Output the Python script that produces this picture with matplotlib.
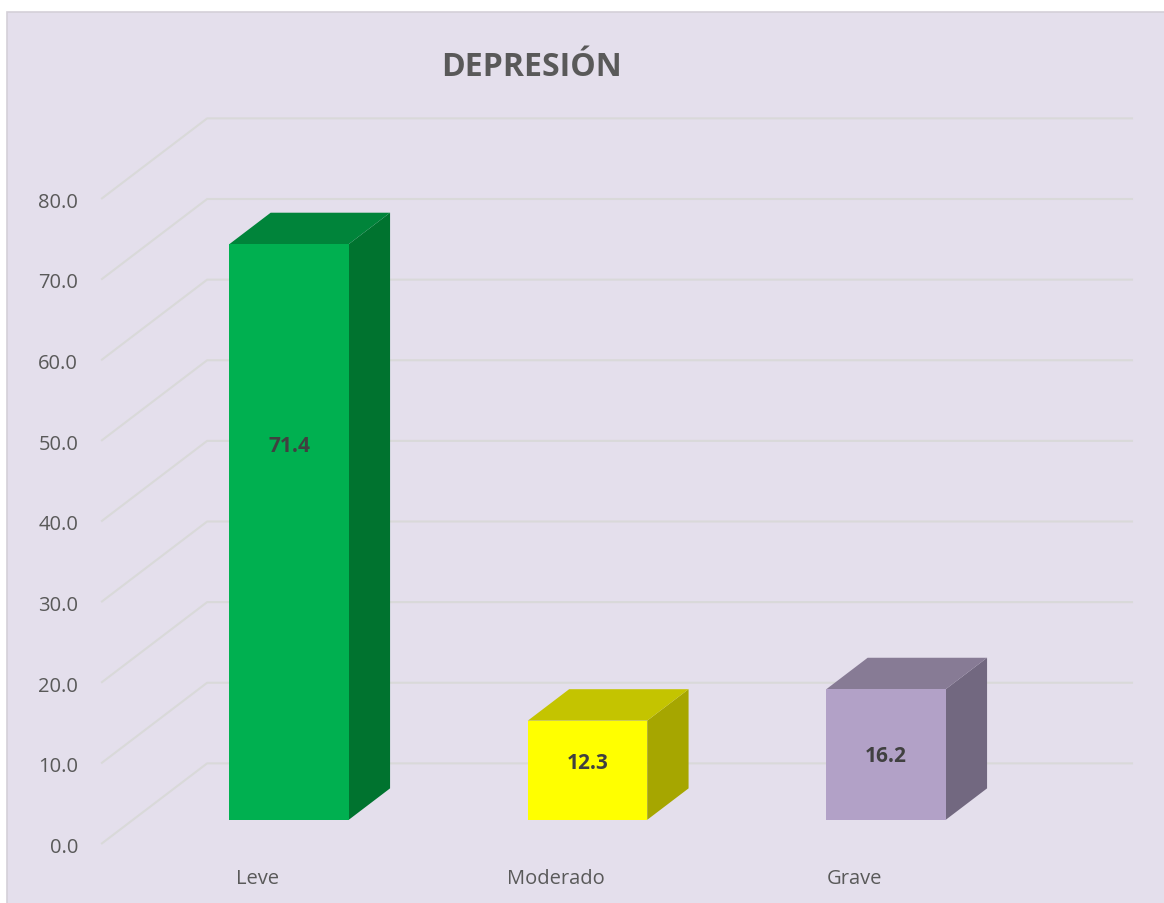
import matplotlib.pyplot as plt
from matplotlib.patches import Polygon, Rectangle

# data
categories = ["Leve", "Moderado", "Grave"]
values = [71.4, 12.3, 16.2]
yticks = [0, 10, 20, 30, 40, 50, 60, 70, 80]
title = "DEPRESIÓN"

# colours (front, top, side)
FRONT = ["#00B050", "#FFFF00", "#B2A1C7"]
TOP = ["#00843A", "#C4C400", "#877B95"]
SIDE = ["#00732F", "#A6A600", "#726880"]
BG = "#E4DFEC"
GRID = "#D9D9D9"
TXT = "#595959"

# pseudo-3d geometry in data units
DX, DY = 0.355, 10.0          # full depth of the floor/walls
BAR_F0, BAR_F1 = 0.30, 0.69   # bar front/back as fraction of depth
BAR_W = 0.40
LABEL_FRAC = [0.65, 0.58, 0.49]

W, H = 1164, 904
fig = plt.figure(figsize=(W / 100, H / 100), dpi=100)
fig.patch.set_facecolor("white")

ax = fig.add_axes([0, 0, 1, 1])
ax.set_facecolor("none")
px_x, px_y = 298.5, 8.0625
x0_px, y0_px = 108, 845
ax.set_xlim(-x0_px / px_x, (W - x0_px) / px_x)
ax.set_ylim(-(H - y0_px) / px_y, y0_px / px_y)
ax.axis("off")

# chart area background with thin border
ax.add_patch(Rectangle((7 / W, -0.01), 1 - 7 / W + 0.01, 1 - 13 / H + 0.01,
                       transform=ax.transAxes, facecolor=BG, edgecolor="#D4D0D8",
                       lw=1.2, zorder=0, clip_on=False))

gx0, gx1 = -0.023, 3.079
for v in yticks:
    ax.plot([gx0, gx0 + DX, gx1 + DX], [v, v + DY, v + DY], color=GRID, lw=1.5,
            solid_capstyle="butt", zorder=1)
    ax.text(gx0 - 0.077, v - 0.35, f"{v:.1f}", ha="right", va="center", fontsize=14.5,
            color=TXT, family="Open Sans")

for i, (cat, val) in enumerate(zip(categories, values)):
    cx = i + 0.5
    ox, oy = BAR_F0 * DX, BAR_F0 * DY
    bx, by = (BAR_F1 - BAR_F0) * DX, (BAR_F1 - BAR_F0) * DY
    xl, xr = cx - BAR_W / 2 + ox, cx + BAR_W / 2 + ox
    yb, yt = oy, oy + val
    side = Polygon([(xr, yb), (xr + bx, yb + by), (xr + bx, yt + by), (xr, yt)],
                   closed=True, facecolor=SIDE[i], edgecolor="none", zorder=3)
    top = Polygon([(xl, yt), (xl + bx, yt + by), (xr + bx, yt + by), (xr, yt)],
                  closed=True, facecolor=TOP[i], edgecolor="none", zorder=3)
    front = Rectangle((xl, yb), xr - xl, val, facecolor=FRONT[i], edgecolor="none", zorder=4)
    for p in (side, top, front):
        ax.add_patch(p)
    ax.text((xl + xr) / 2, yb + val * LABEL_FRAC[i], f"{val:.1f}", ha="center", va="center",
            fontsize=15, fontweight="bold", color="#404040", family="Open Sans", zorder=5)
    ax.text(cx, -4.2, cat, ha="center", va="center", fontsize=14.5, color=TXT,
            family="Open Sans")

fig.text(531 / W, 1 - 68 / H, title, ha="center", va="center", fontsize=23,
         fontweight="bold", color=TXT, family="Open Sans")

fig.savefig("out.png", dpi=100, facecolor=fig.get_facecolor())
